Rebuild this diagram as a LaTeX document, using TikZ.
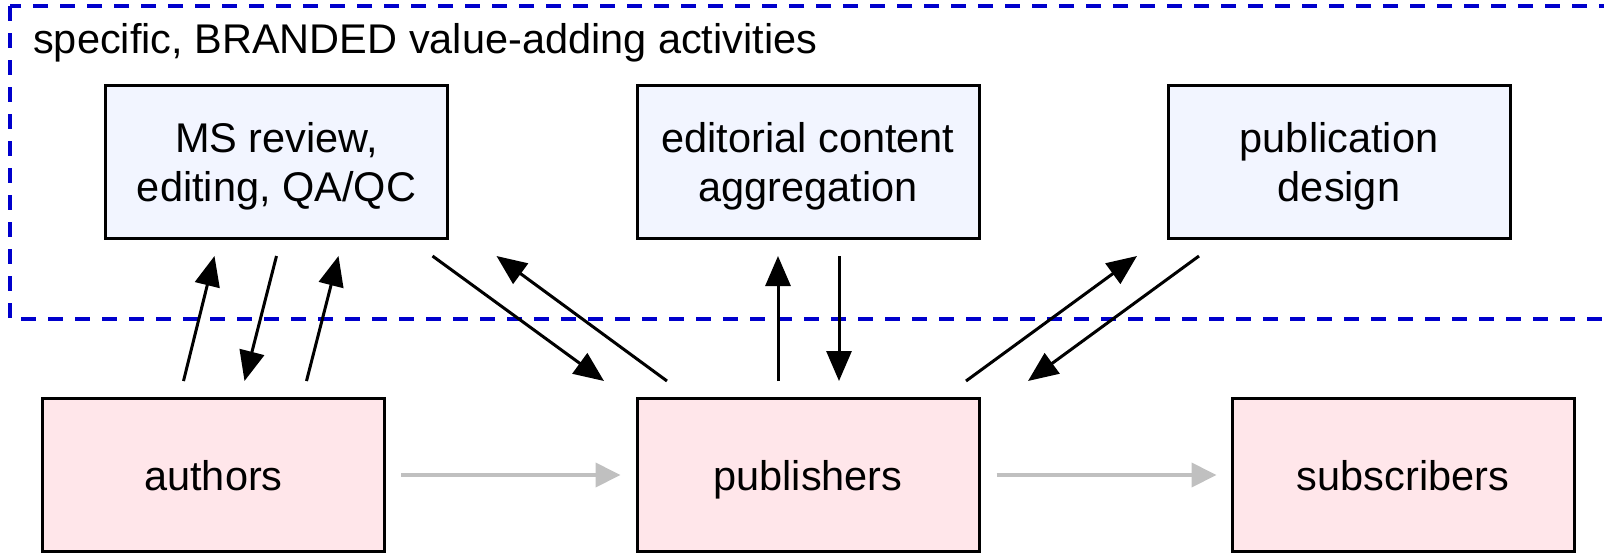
\documentclass[tikz,border=0pt]{standalone}
\usepackage{fontspec}
\setmainfont{Liberation Sans}
\usetikzlibrary{arrows.meta}
\definecolor{actfill}{RGB}{242,245,255}
\definecolor{partyfill}{RGB}{255,230,234}
\definecolor{zoneblue}{RGB}{0,0,204}
\definecolor{feedgray}{RGB}{192,192,192}

\begin{document}
\begin{tikzpicture}[x=1pt,y=-1pt,
  act node/.style={rectangle,draw,line width=3pt,fill=actfill,minimum width=342pt,minimum height=153pt,text depth=0pt,align=center,font=\fontsize{41.5}{49}\selectfont},
  party node/.style={rectangle,draw,line width=3pt,fill=partyfill,minimum width=342pt,minimum height=153pt,text depth=0pt,align=center,font=\fontsize{41.5}{49}\selectfont},
  flow/.style={-{Triangle[length=30pt,width=25pt]},line width=3pt},
  feed/.style={-{Triangle[length=25pt,width=24pt]},line width=4pt,feedgray}]
  \clip (0,0) rectangle (1604,555);

  % branded zone
  \draw[zoneblue,line width=3.5pt,dash pattern=on 15pt off 12pt] (10,6) rectangle (1660,319);
  \node[anchor=base west,inner sep=0pt,font=\fontsize{41.5}{49}\selectfont] (zone) at (33,53) {specific, BRANDED value-adding activities};

  \node[act node] (ms) at (276.5,162) {MS review,\\editing, QA/QC};
  \node[act node] (edit) at (808,162) {editorial content\\aggregation};
  \node[act node] (design) at (1339,162) {publication\\design};
  \node[party node] (authors) at (213.5,475) {authors};
  \node[party node] (publishers) at (808,475) {publishers};
  \node[party node] (subscribers) at (1403,475) {subscribers};

  \draw[flow] ([shift={(-30,-16)}]authors.north) -- ([shift={(-62,16)}]ms.south);
  \draw[flow] ([shift={(0,16)}]ms.south) -- ([shift={(31,-16)}]authors.north);
  \draw[flow] ([shift={(93,-16)}]authors.north) -- ([shift={(62,16)}]ms.south);
  \draw[flow] ([shift={(156,16)}]ms.south) -- ([shift={(-204,-16)}]publishers.north);
  \draw[flow] ([shift={(-141,-16)}]publishers.north) -- ([shift={(220,16)}]ms.south);
  \draw[flow] ([shift={(-30,-16)}]publishers.north) -- ([shift={(-30,16)}]edit.south);
  \draw[flow] ([shift={(31,16)}]edit.south) -- ([shift={(31,-16)}]publishers.north);
  \draw[flow] ([shift={(158,-16)}]publishers.north) -- ([shift={(-202,16)}]design.south);
  \draw[flow] ([shift={(-140,16)}]design.south) -- ([shift={(220,-16)}]publishers.north);

  \draw[feed] ([xshift=15pt]authors.east) -- ([xshift=-15pt]publishers.west);
  \draw[feed] ([xshift=16pt]publishers.east) -- ([xshift=-14pt]subscribers.west);
\end{tikzpicture}
\end{document}
